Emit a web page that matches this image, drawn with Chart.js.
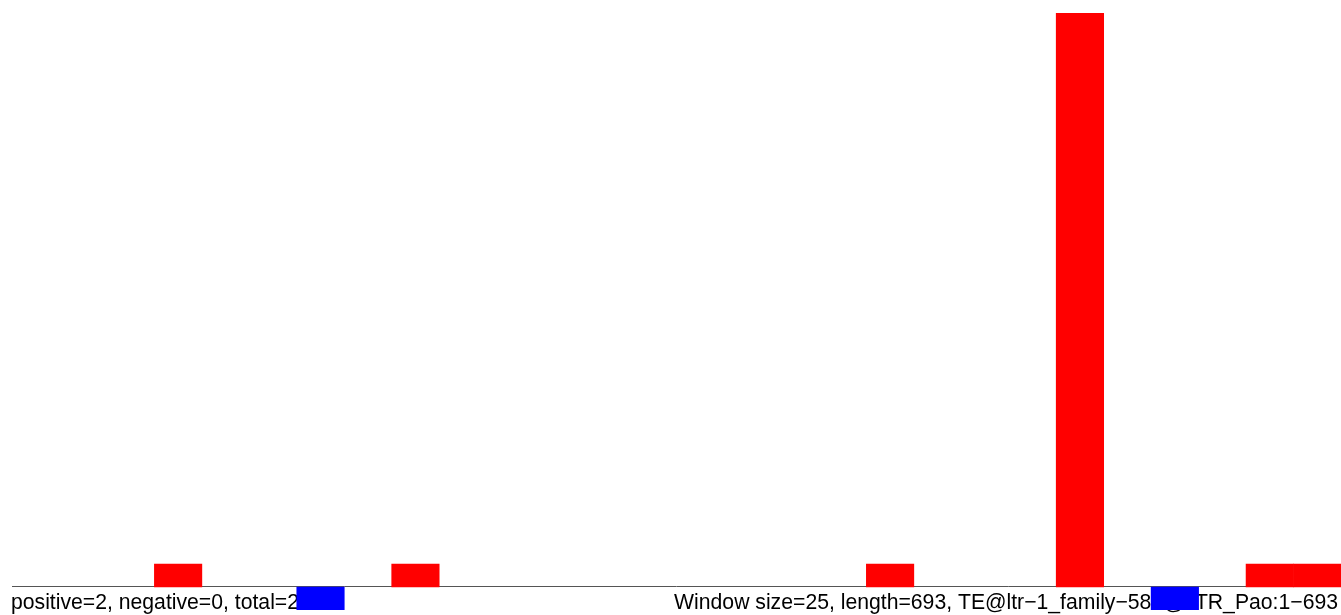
<!DOCTYPE html>
<html>
<head>
<meta charset="utf-8">
<script src="https://cdn.jsdelivr.net/npm/chart.js@4.4.1/dist/chart.umd.min.js"></script>
<style>
  html, body { margin: 0; padding: 0; background: #fff; }
  #wrap { width: 1341px; height: 615px; position: relative; }
</style>
</head>
<body>
<div id="wrap"><canvas id="windowChart"></canvas></div>
<script>
// 28 windows (window size 25 over length 693)
const windows = Array.from({ length: 28 }, (_, i) => "w" + (i + 1));
// positive hits per window (red, above baseline); null = empty window
const positiveHits = [null, null, null, 1, null, null, null, null, 1, null, null, null, null, null, null, null, null, null, 1, null, null, null, 25, null, null, null, 1, 1];
// negative hits per window (blue, below baseline)
const negativeHits = [null, null, null, null, null, null, -1, null, null, null, null, null, null, null, null, null, null, null, null, null, null, null, null, null, -1, null, null, null];

const leftLabel = "positive=2, negative=0, total=2";
const rightLabel = "Window size=25, length=693, TE@ltr\u22121_family\u2212582@LTR_Pao:1\u2212693";

// baseline + bottom texts, drawn under the bars
const annotations = {
  id: "annotations",
  beforeDatasetsDraw(chart) {
    const { ctx, chartArea, scales } = chart;
    const y0 = Math.round(scales.y.getPixelForValue(0)) - 0.5;
    ctx.save();
    ctx.strokeStyle = "#555555";
    ctx.lineWidth = 1;
    ctx.beginPath();
    ctx.moveTo(chartArea.left, y0);
    ctx.lineTo(chartArea.right, y0);
    ctx.stroke();

    ctx.fillStyle = "#000";
    ctx.font = '21.2px "Liberation Sans", Arial, sans-serif';
    ctx.textBaseline = "alphabetic";
    ctx.textAlign = "left";
    ctx.fillText(leftLabel, 11, 609);
    ctx.textAlign = "right";
    ctx.fillText(rightLabel, 1338, 609);
    ctx.restore();
  },
};

const chart = new Chart(document.getElementById("windowChart"), {
  type: "bar",
  data: {
    labels: windows,
    datasets: [
      {
        label: "positive",
        data: positiveHits,
        backgroundColor: "#FF0000",
        borderWidth: 0,
        grouped: false,
        categoryPercentage: 1,
        barPercentage: 1,
      },
      {
        label: "negative",
        data: negativeHits,
        backgroundColor: "#0000FF",
        borderWidth: 0,
        grouped: false,
        categoryPercentage: 1,
        barPercentage: 1,
      },
    ],
  },
  options: {
    animation: false,
    responsive: true,
    maintainAspectRatio: false,
    layout: { padding: { left: 12, top: 13, right: 0, bottom: 5 } },
    scales: {
      x: { display: false },
      y: { display: false, min: -1, max: 25 },
    },
    plugins: {
      legend: { display: false },
      tooltip: { enabled: false },
    },
  },
  plugins: [annotations],
});
</script>
</body>
</html>
